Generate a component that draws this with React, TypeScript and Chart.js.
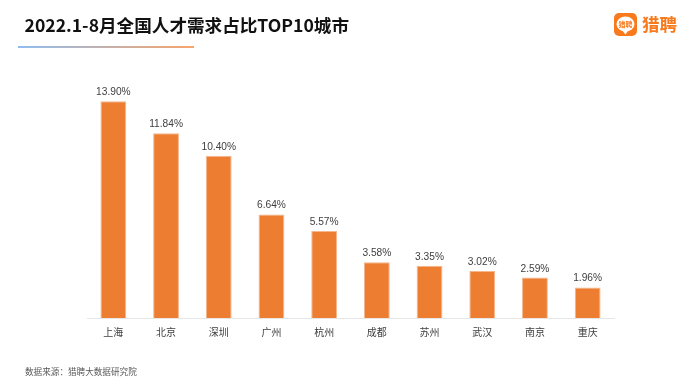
import React, { useEffect, useRef } from "react";
import { Chart, registerables } from "chart.js";

Chart.register(...registerables);

const cities = ["上海", "北京", "深圳", "广州", "杭州", "成都", "苏州", "武汉", "南京", "重庆"];
const shares = [13.9, 11.84, 10.4, 6.64, 5.57, 3.58, 3.35, 3.02, 2.59, 1.96];
const titleText = "2022.1-8月全国人才需求占比TOP10城市";
const sourceText = "数据来源：猎聘大数据研究院";
const brandText = "猎聘";
const CJK = '"Noto Sans CJK SC", "Noto Sans", sans-serif';

const decor = {
  id: "decor",
  afterDraw(chart: any) {
    const { ctx } = chart;
    ctx.save();
    // bar value labels
    const meta = chart.getDatasetMeta(0);
    ctx.font = '10.2px "Liberation Sans", Arial, sans-serif';
    ctx.fillStyle = "#404040";
    ctx.textAlign = "center";
    ctx.textBaseline = "alphabetic";
    meta.data.forEach((bar: any, i: number) => {
      ctx.fillText(shares[i].toFixed(2) + "%", bar.x, bar.y - 6);
    });
    // title
    ctx.textAlign = "left";
    ctx.font = `bold 17.6px ${CJK}`;
    ctx.fillStyle = "#111111";
    ctx.fillText(titleText, 24.5, 32);
    // gradient rule
    const g = ctx.createLinearGradient(18, 0, 194, 0);
    g.addColorStop(0, "#8fbdf0");
    g.addColorStop(1, "#f8a46a");
    ctx.fillStyle = g;
    ctx.fillRect(18, 46, 176, 2);
    // source
    ctx.font = `8.6px ${CJK}`;
    ctx.fillStyle = "#595959";
    ctx.fillText(sourceText, 25, 375);
    // logo
    ctx.fillStyle = "#f97a1c";
    ctx.beginPath();
    ctx.roundRect(614, 13, 23, 23, 5);
    ctx.fill();
    ctx.fillStyle = "#ffffff";
    ctx.beginPath();
    ctx.ellipse(625.5, 24, 9, 7.5, 0, 0, Math.PI * 2);
    ctx.fill();
    ctx.beginPath();
    ctx.moveTo(622, 30);
    ctx.lineTo(625.5, 34.5);
    ctx.lineTo(628.5, 30);
    ctx.fill();
    ctx.fillStyle = "#f97a1c";
    ctx.font = `bold 7px ${CJK}`;
    ctx.textAlign = "center";
    ctx.fillText(brandText, 625.5, 27);
    ctx.font = `bold 17.5px ${CJK}`;
    ctx.textAlign = "left";
    ctx.fillText(brandText, 642, 31);
    ctx.restore();
  },
};

export default function App() {
  const ref = useRef<HTMLCanvasElement>(null);
  useEffect(() => {
    const chart = new Chart(ref.current!, {
      type: "bar",
      data: {
        labels: cities,
        datasets: [
          {
            data: shares,
            backgroundColor: "#ED7D31",
            borderColor: "#F6B58A",
            borderWidth: 1,
            barPercentage: 0.49,
            categoryPercentage: 1,
          },
        ],
      },
      options: {
        responsive: false,
        animation: false,
        layout: { padding: { left: 87, right: 77, top: 68.4, bottom: 51 } },
        plugins: { legend: { display: false }, tooltip: { enabled: false } },
        scales: {
          x: {
            grid: { display: false },
            border: { color: "#e6e6e6" },
            ticks: {
              color: "#404040",
              font: { family: CJK, size: 10 },
              padding: 0,
              maxRotation: 0,
            },
          },
          y: { display: false, min: 0, max: 16 },
        },
      },
      plugins: [decor],
    });
    return () => chart.destroy();
  }, []);
  return (
    <canvas
      ref={ref}
      width={691}
      height={389}
      style={{ position: "absolute", left: 0, top: 0, width: 691, height: 389 }}
    />
  );
}
